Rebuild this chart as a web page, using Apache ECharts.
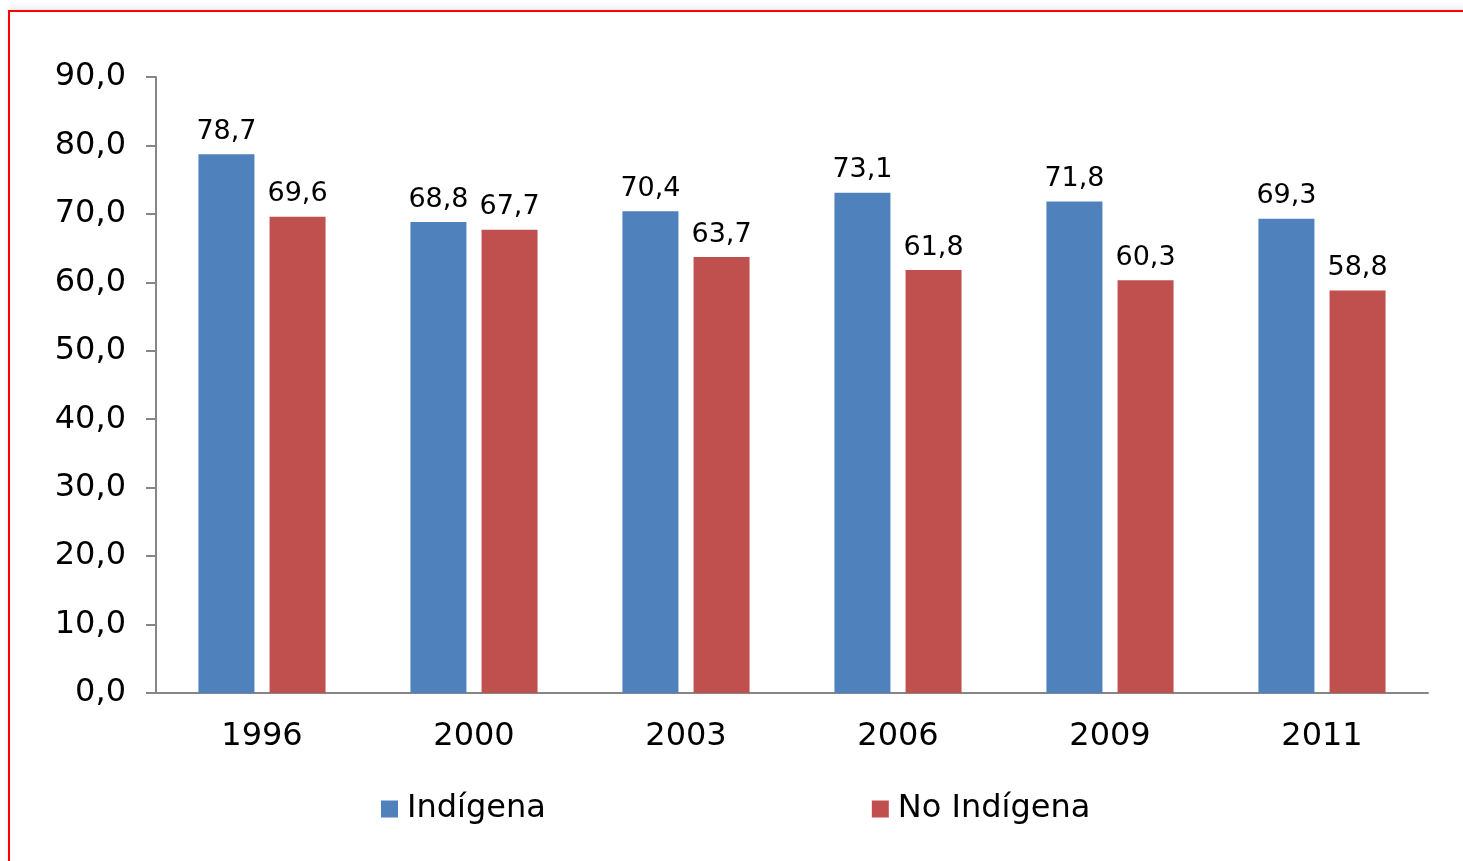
<!DOCTYPE html>
<html>
<head>
<meta charset="utf-8">
<script src="https://cdn.jsdelivr.net/npm/echarts@6/dist/echarts.min.js"></script>
<style>
  html, body { margin: 0; padding: 0; background: #fff; }
  #frame {
    position: absolute; left: 8px; top: 10px; width: 1480px; height: 900px;
    border: 2px solid #f00; box-shadow: 0 -3px 6px rgba(0,0,0,0.08);
  }
  #chart { position: absolute; left: 0; top: 0; width: 1463px; height: 861px; }
</style>
</head>
<body>
<div id="frame"></div>
<div id="chart"></div>
<script>
// años de la encuesta
const years = ["1996", "2000", "2003", "2006", "2009", "2011"];
// porcentajes por grupo
const indigena = [78.7, 68.8, 70.4, 73.1, 71.8, 69.3];
const noIndigena = [69.6, 67.7, 63.7, 61.8, 60.3, 58.8];

const fontFamily = "DejaVu Sans, Verdana, sans-serif";
const fmt = (v) => v.toFixed(1).replace(".", ",");

const chart = echarts.init(document.getElementById("chart"));

const labelStyle = {
  show: true,
  position: "top",
  distance: 9,
  color: "#000",
  fontSize: 27,
  fontFamily,
  formatter: (p) => fmt(p.value),
};

chart.setOption({
  animation: false,
  textStyle: { fontFamily },
  grid: { left: 156, right: 35, top: 77, bottom: 168 },
  legend: {
    left: 376,
    top: 788,
    itemWidth: 17,
    itemHeight: 17,
    itemGap: 326,
    icon: "rect",
    textStyle: { fontSize: 32, color: "#000", fontFamily, padding: [0, 0, 0, 4] },
    data: ["Indígena", "No Indígena"],
  },
  xAxis: {
    type: "category",
    data: years,
    axisLine: { lineStyle: { color: "#868686", width: 2 } },
    axisTick: { length: 10, lineStyle: { color: "#868686", width: 2 } },
    axisLabel: { color: "#000", fontSize: 32, margin: 28 },
  },
  yAxis: {
    type: "value",
    min: 0,
    max: 90,
    interval: 10,
    splitLine: { show: false },
    axisLine: { show: true, lineStyle: { color: "#868686", width: 2 } },
    axisTick: { show: true, length: 10, lineStyle: { color: "#868686", width: 2 } },
    axisLabel: { color: "#000", fontSize: 32, margin: 30, formatter: (v) => fmt(v) },
  },
  series: [
    {
      name: "Indígena",
      type: "bar",
      data: indigena,
      barWidth: 56,
      barGap: "27%",
      itemStyle: { color: "#4F81BD" },
      label: labelStyle,
    },
    {
      name: "No Indígena",
      type: "bar",
      data: noIndigena,
      barWidth: 56,
      itemStyle: { color: "#C0504D" },
      label: labelStyle,
    },
  ],
});
</script>
</body>
</html>
